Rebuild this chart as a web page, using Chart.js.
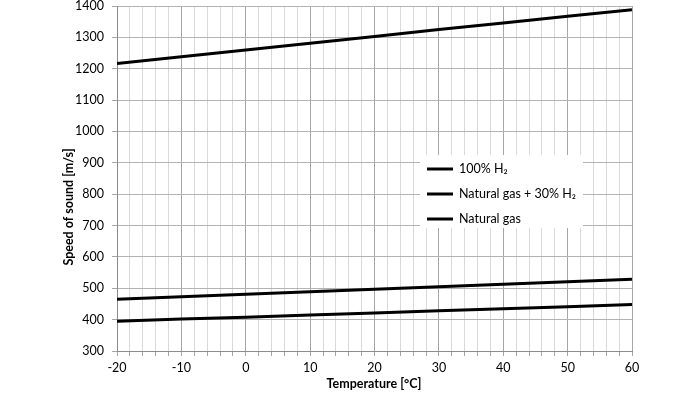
<!DOCTYPE html>
<html>
<head>
<meta charset="utf-8">
<script src="https://cdn.jsdelivr.net/npm/chart.js@4"></script>
<style>
  html, body { margin: 0; padding: 0; background: #fff; }
  #wrap { width: 700px; height: 394px; }
</style>
</head>
<body>
<div id="wrap"><canvas id="soundChart" width="700" height="394"></canvas></div>
<script>
// values
const temps = [-20, -10, 0, 10, 20, 30, 40, 50, 60];
const pureH2 = [1217, 1238, 1260, 1281, 1303, 1325, 1346, 1367, 1388];
const gasH2 = [465, 473, 481, 489, 497, 505, 513, 521, 529];
const natGas = [395, 402, 408, 415, 421, 428, 435, 441, 448];
const seriesNames = ['100% H\u2082', 'Natural gas + 30% H\u2082', 'Natural gas'];

const FONT = "Lato, 'Liberation Sans', sans-serif";

function pts(vals) {
    return temps.map((t, i) => ({ x: t, y: vals[i] }));
}

// legend box and axis titles drawn by hand so they sit where the original has them
const extras = {
    id: 'extras',
    afterDraw(chart) {
        const c = chart.ctx;
        c.save();
        c.fillStyle = '#fff';
        c.fillRect(420, 155, 163, 73);
        const rows = [169, 194, 219];
        c.font = '12.5px ' + FONT;
        c.textBaseline = 'middle';
        rows.forEach((y, i) => {
            c.strokeStyle = '#000';
            c.lineWidth = 3;
            c.beginPath();
            c.moveTo(427, y);
            c.lineTo(453, y);
            c.stroke();
            c.fillStyle = '#000';
            c.fillText(seriesNames[i], 459, y);
        });
        c.font = 'bold 12.5px ' + FONT;
        c.textAlign = 'center';
        c.fillText('Temperature [\u00b0C]', 374, 384);
        c.translate(69, 207);
        c.rotate(-Math.PI / 2);
        c.fillText('Speed of sound [m/s]', 0, 0);
        c.restore();
    }
};

const ctx = document.getElementById('soundChart').getContext('2d');
new Chart(ctx, {
    type: 'line',
    data: {
        datasets: [
            { label: seriesNames[0], data: pts(pureH2) },
            { label: seriesNames[1], data: pts(gasH2) },
            { label: seriesNames[2], data: pts(natGas) }
        ].map(d => Object.assign(d, {
            borderColor: '#000',
            borderWidth: 3,
            pointRadius: 0,
            tension: 0
        }))
    },
    options: {
        responsive: false,
        animation: false,
        layout: { padding: { left: 0, right: 68, top: 0, bottom: 0 } },
        plugins: {
            legend: { display: false },
            tooltip: { enabled: false }
        },
        scales: {
            x: {
                type: 'linear',
                min: -20,
                max: 60,
                afterFit: s => { s.height = 43; },
                border: { color: '#8c8c8c', width: 1 },
                grid: {
                    color: c => (c.tick && c.tick.value % 10 === 0) ? '#a6a6a6' : '#d9d9d9',
                    tickColor: '#a6a6a6',
                    tickLength: 5
                },
                ticks: {
                    stepSize: 2,
                    autoSkip: false,
                    maxRotation: 0,
                    padding: 4,
                    color: '#000',
                    font: { family: FONT, size: 12.5 },
                    callback: v => (v % 10 === 0 ? String(v) : '')
                }
            },
            y: {
                min: 300,
                max: 1400,
                afterFit: s => { s.width = 117; s.paddingTop = 6; },
                border: { color: '#8c8c8c', width: 1 },
                grid: {
                    color: '#b3b3b3',
                    tickColor: '#a6a6a6',
                    tickLength: 5
                },
                ticks: {
                    stepSize: 100,
                    padding: 8,
                    color: '#000',
                    font: { family: FONT, size: 12.5 },
                    callback: v => String(v)
                }
            }
        }
    },
    plugins: [extras]
});
</script>
</body>
</html>
